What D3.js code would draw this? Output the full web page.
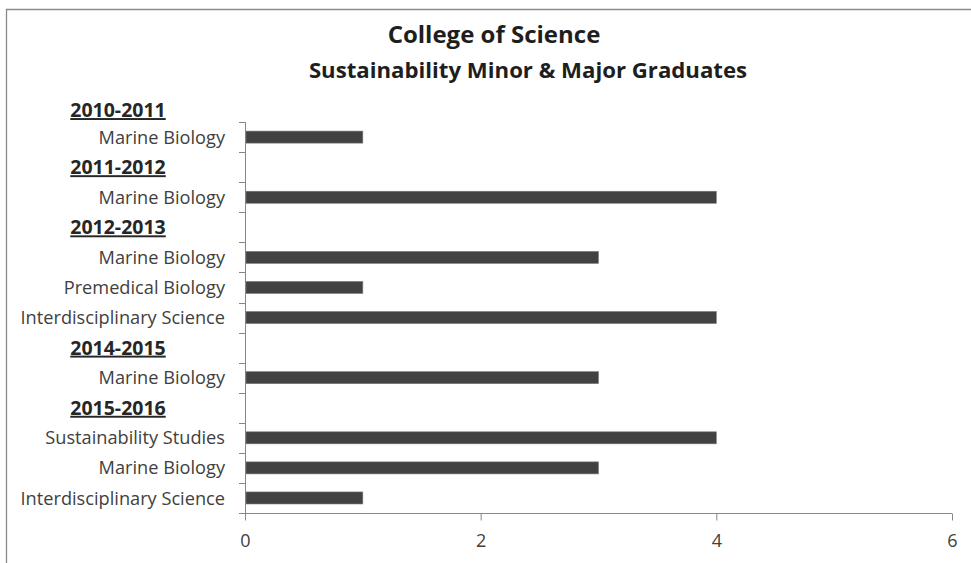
<!DOCTYPE html>
<html>
<head>
<meta charset="utf-8">
<script src="https://cdn.jsdelivr.net/npm/d3@7"></script>
<style>
  body { margin: 0; background: #fff; }
  text { font-family: "Open Sans", "Noto Sans", sans-serif; }
</style>
</head>
<body>
<div id="chart"></div>
<script>
// rows top to bottom; a null value marks a year header row
const rowLabels = [
  "2010-2011", "Marine Biology",
  "2011-2012", "Marine Biology",
  "2012-2013", "Marine Biology", "Premedical Biology", "Interdisciplinary Science",
  "2014-2015", "Marine Biology",
  "2015-2016", "Sustainability Studies", "Marine Biology", "Interdisciplinary Science"
];
const rowValues = [null, 1, null, 4, null, 3, 1, 4, null, 3, null, 4, 3, 1];
const xTicks = [0, 2, 4, 6];
const titleLines = ["College of Science", "Sustainability Minor & Major Graduates"];

const WIDTH = 971, HEIGHT = 563;
const margin = { top: 92, right: 19, bottom: 50, left: 245 };
const plotW = WIDTH - margin.left - margin.right;
const plotH = HEIGHT - margin.top - margin.bottom;

const svg = d3.select("#chart")
  .append("svg")
  .attr("width", WIDTH)
  .attr("height", HEIGHT);

// chart border (only top and left edges fall inside the picture)
svg.append("path")
  .attr("d", `M6.5,${HEIGHT} V9.5 H${WIDTH}`)
  .attr("fill", "none")
  .attr("stroke", "#8a8a8a")
  .attr("stroke-width", 1.3);

svg.append("text")
  .attr("x", 494).attr("y", 43)
  .attr("text-anchor", "middle")
  .style("font-size", "24px").style("font-weight", "bold").style("fill", "#1e1e1e")
  .text(titleLines[0]);
svg.append("text")
  .attr("x", 528).attr("y", 78)
  .attr("text-anchor", "middle")
  .style("font-size", "22.2px").style("font-weight", "bold").style("fill", "#1e1e1e")
  .text(titleLines[1]);

const g = svg.append("g")
  .attr("transform", `translate(${margin.left}, ${margin.top})`);

const x = d3.scaleLinear().domain([0, 6]).range([0, plotW]);
const y = d3.scaleBand().domain(d3.range(rowLabels.length)).range([0, plotH]).padding(0);

const axisColor = "#868686";
const axisTop = y(1);

// category axis line and boundary ticks
g.append("line")
  .attr("x1", 0.5).attr("x2", 0.5)
  .attr("y1", axisTop).attr("y2", plotH)
  .attr("stroke", axisColor);

const boundaries = d3.range(1, rowLabels.length).map(i => y(i)).concat([plotH]);
g.selectAll(".ytick")
  .data(boundaries)
  .enter()
  .append("line")
  .attr("class", "ytick")
  .attr("x1", -6).attr("x2", 0)
  .attr("y1", d => Math.round(d) + 0.5).attr("y2", d => Math.round(d) + 0.5)
  .attr("stroke", axisColor);

// value axis
const xAxis = g.append("g")
  .attr("transform", `translate(0, ${Math.round(plotH) + 0.5})`)
  .call(d3.axisBottom(x).tickValues(xTicks).tickSize(7).tickPadding(14).tickFormat(d3.format("d")))
  .call(g => g.select(".domain").attr("stroke", axisColor).attr("d", `M0,0H${plotW}`));
xAxis.selectAll(".tick line").attr("stroke", axisColor);
xAxis.selectAll(".tick text")
  .style("font-size", "18px")
  .style("font-family", "'Open Sans', sans-serif")
  .style("fill", "#404040");

// row labels
g.selectAll(".rowlbl")
  .data(rowLabels.map((label, i) => ({ label, i, header: rowValues[i] === null })))
  .enter()
  .append("text")
  .attr("class", "rowlbl")
  .attr("x", d => d.header ? -127 : -20)
  .attr("y", d => y(d.i) + y.bandwidth() / 2 + (d.i === 0 ? 3 : 0))
  .attr("dy", "0.36em")
  .attr("text-anchor", d => d.header ? "middle" : "end")
  .style("font-size", d => d.header ? "19.5px" : "18.2px")
  .style("font-weight", d => d.header ? "bold" : "normal")
  .style("text-decoration", d => d.header ? "underline" : "none")
  .style("fill", d => d.header ? "#262626" : "#404040")
  .text(d => d.label);

// bars
const barH = y.bandwidth() * 0.4;
g.selectAll(".bar")
  .data(rowValues.map((value, i) => ({ value, i })).filter(d => d.value !== null))
  .enter()
  .append("rect")
  .attr("class", "bar")
  .attr("x", x(0) + 1)
  .attr("y", d => y(d.i) + (y.bandwidth() - barH) / 2)
  .attr("width", d => x(d.value) - x(0) - 1)
  .attr("height", barH)
  .style("fill", "#424242")
  .style("stroke", "#7a7a7a")
  .style("stroke-width", 0.6);
</script>
</body>
</html>
